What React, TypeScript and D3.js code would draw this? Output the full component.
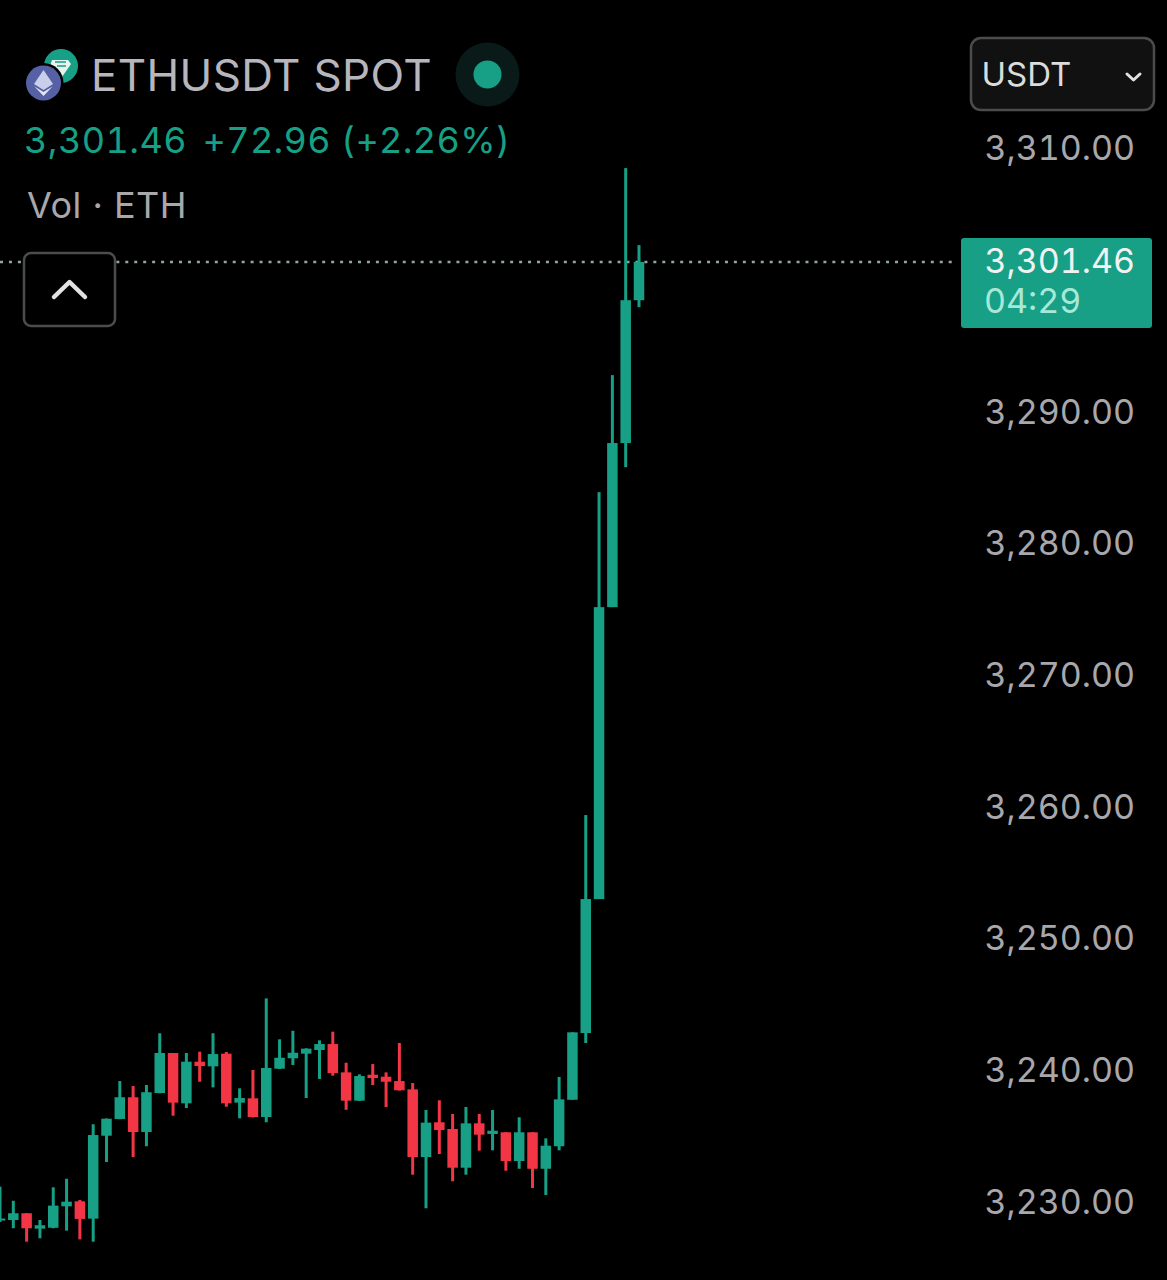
import React from "react";
import * as d3 from "d3";

const opens = [3228.67,3228.71,3229.22,3228.05,3228.12,3229.75,3230.13,3228.81,3235.11,3236.38,3238.03,3235.39,3238.35,3241.39,3237.57,3240.73,3240.38,3241.34,3237.62,3237.95,3236.53,3240.2,3240.99,3241.34,3241.62,3242.07,3239.92,3237.77,3239.74,3239.59,3239.26,3238.63,3233.49,3236.13,3235.62,3232.68,3236.05,3235.24,3235.37,3233.19,3235.37,3232.6,3234.31,3237.84,3242.91,3253.08,3275.25,3287.71,3298.56];
const highs = [3231.24,3230.17,3229.22,3228.71,3231.19,3231.84,3230.23,3235.98,3236.42,3239.26,3238.88,3238.96,3242.89,3241.39,3241.39,3241.49,3242.89,3241.47,3238.71,3240.1,3245.54,3242.43,3243.08,3241.75,3242.35,3243.01,3240.65,3239.77,3240.55,3239.92,3242.15,3239.11,3237.06,3237.8,3236.76,3237.29,3236.76,3237.06,3235.37,3236.51,3235.37,3234.91,3239.57,3242.96,3259.46,3283.98,3292.87,3308.59,3302.74];
const lows = [3228.56,3228.08,3227.06,3227.32,3228.08,3227.9,3227.24,3227.06,3233.11,3236.36,3233.49,3234.31,3238.33,3236.63,3237.21,3239.21,3238.78,3237.31,3236.43,3236.5,3236.13,3240.18,3240.48,3237.97,3239.42,3239.67,3237.08,3237.75,3238.96,3237.29,3238.54,3232.15,3229.6,3233.72,3231.65,3232.15,3233.97,3234,3232.45,3232.6,3231.14,3230.61,3234,3237.84,3242.15,3253.08,3275.25,3285.88,3298.03];
const closes = [3228.82,3229.22,3228.08,3228.31,3229.8,3230.1,3228.79,3235.16,3236.4,3238.03,3235.39,3238.41,3241.39,3237.62,3240.73,3240.4,3241.31,3237.57,3237.97,3236.53,3240.25,3241.03,3241.41,3241.72,3242.07,3239.87,3237.77,3239.64,3239.49,3239.21,3238.56,3233.49,3236.1,3235.54,3232.68,3236.05,3235.19,3235.49,3233.19,3235.37,3232.6,3234.35,3237.87,3242.96,3253.08,3275.25,3287.71,3298.56,3301.46];
const priceTicks = [3310,3290,3280,3270,3260,3250,3240,3230];
const lastPrice = 3301.46;
const symbol = "ETHUSDT SPOT";
const quote = "3,301.46";
const change = "+72.96 (+2.26%)";
const volume = "Vol · ETH";
const countdown = "04:29";
const unit = "USDT";

const UP = "#17a085";
const DOWN = "#f23645";
const FONT = "Inter, 'Liberation Sans', sans-serif";

const x = d3.scaleLinear().domain([0, 48]).range([0, 639]);
const y = d3.scaleLinear().domain([3230, lastPrice]).range([1203, 262]);
const fmt = d3.format(",.2f");
const tnum = { fontVariantNumeric: "tabular-nums", fontFeatureSettings: "'tnum'" } as const;

export default function App() {
  const bodyW = 10.5;
  const wickW = 3;
  return (
    <svg width={1167} height={1280} viewBox="0 0 1167 1280"
      style={{ position: "fixed", left: 0, top: 0, background: "#000", fontFamily: FONT, display: "block" }}>
      <line x1={0} x2={955} y1={y(lastPrice)} y2={y(lastPrice)} stroke="#8fa8a2" strokeWidth={2.6} strokeDasharray="3 5.95" />

      {opens.map((o, i) => {
        const c = closes[i];
        const col = c >= o ? UP : DOWN;
        const top = y(Math.max(o, c));
        const bot = y(Math.min(o, c));
        return (
          <g key={i} fill={col}>
            <rect x={x(i) - wickW / 2} width={wickW} y={y(highs[i])} height={y(lows[i]) - y(highs[i])} />
            <rect x={x(i) - bodyW / 2} width={bodyW} y={top} height={Math.max(bot - top, 2)} />
          </g>
        );
      })}

      <rect x={24} y={253} width={91} height={73} rx={7} fill="#000" stroke="#4c4c4c" strokeWidth={2.5} />
      <path d="M54 297 L69.5 282 L85 297" fill="none" stroke="#e2e2e2" strokeWidth={4.5} strokeLinecap="round" strokeLinejoin="round" />

      <circle cx={61} cy={66} r={17} fill={UP} />
      <path d="M52 60 L68 60 L71 64 L62 77 L50 66 Z" fill="#e6f3ef" />
      <path d="M55 62 H66 M57 66 H66" stroke={UP} strokeWidth={1.6} fill="none" />
      <circle cx={43.5} cy={83} r={20} fill="#000" />
      <circle cx={43.5} cy={83} r={17.5} fill="#5660a5" />
      <path d="M43.5 70 L34 84 L43.5 90 L53 84 Z" fill="#c9cfeb" />
      <path d="M34.5 86.5 L43.5 96 L52.5 86.5 L43.5 92 Z" fill="#e4e7f6" />

      <text x={91} y={91} fontSize={44} letterSpacing={0.35} fill="#b6b6bc">{symbol}</text>
      <circle cx={487.5} cy={74.5} r={32} fill="#0a1a18" />
      <circle cx={487.5} cy={74.5} r={14} fill={UP} />

      <text x={24} y={153} fontSize={36} letterSpacing={0.45} style={tnum} fill={UP}>{quote}</text>
      <text x={202.5} y={153} fontSize={36} letterSpacing={0.35} style={tnum} fill={UP}>{change}</text>
      <text x={27} y={218} fontSize={36} letterSpacing={0.5} fill="#a8a8ac">{volume}</text>

      <rect x={971} y={38} width={183} height={72} rx={10} fill="#111" stroke="#4c4c4c" strokeWidth={2.5} />
      <text x={981.5} y={86} fontSize={33} fill="#dcdcdc">{unit}</text>
      <path d="M1127 74 L1133.5 80 L1140 74" fill="none" stroke="#e2e2e2" strokeWidth={3} strokeLinecap="round" strokeLinejoin="round" />

      {priceTicks.map((t) => (
        <text key={t} x={1135} y={y(t) - 1.6} dy="0.36em" textAnchor="end" fontSize={34} style={tnum} fill="#a8a8ac">{fmt(t)}</text>
      ))}

      <rect x={961} y={238} width={191} height={90} rx={3} fill={UP} />
      <text x={1135} y={273} textAnchor="end" fontSize={34} style={tnum} fill="#f2f2f2">{fmt(lastPrice)}</text>
      <text x={984} y={313} fontSize={34} style={tnum} fill="#a8e8d8">{countdown}</text>
    </svg>
  );
}
